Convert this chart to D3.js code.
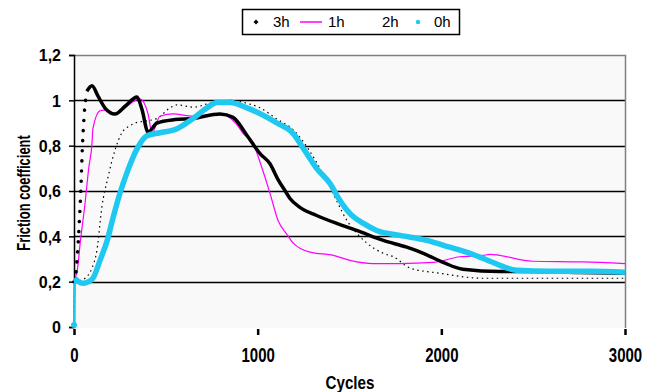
<!DOCTYPE html>
<html>
<head>
<meta charset="utf-8">
<script src="https://cdn.jsdelivr.net/npm/d3@7"></script>
<style>
  html, body { margin: 0; padding: 0; background: #fff; }
  svg { display: block; }
  text { font-family: "Liberation Sans", Arial, sans-serif; fill: #000; }
</style>
</head>
<body>
<svg id="chart" width="647" height="392"></svg>
<script>
// Friction coefficient vs. cycles for four ageing times
const cycles3h = [0, 8, 15, 22, 30, 38, 45, 55, 70, 98, 130, 170, 223, 280, 343, 370, 403, 452, 550, 648, 795, 866, 942, 1013, 1067, 1111, 1150, 1176, 1230, 1321, 1430, 1539, 1684, 1812, 1902, 2010, 2117, 2319, 2500, 2750, 3000];
const mu3h     = [0.2, 0.22, 0.28, 0.36, 0.48, 0.62, 0.78, 0.93, 1.04, 1.064, 1.02, 0.965, 0.94, 0.975, 1.015, 0.96, 0.86, 0.9, 0.915, 0.92, 0.94, 0.925, 0.845, 0.765, 0.72, 0.65, 0.6, 0.567, 0.528, 0.492, 0.457, 0.426, 0.382, 0.352, 0.325, 0.285, 0.255, 0.245, 0.245, 0.24, 0.237];

const cycles1h = [0, 3, 8, 16, 35, 60, 80, 98, 103, 142, 180, 223, 280, 359, 403, 425, 468, 540, 650, 795, 880, 922, 975, 1020, 1067, 1111, 1158, 1194, 1285, 1412, 1503, 1630, 1775, 1955, 2101, 2227, 2265, 2499, 2771, 3000];
const mu1h     = [0, 0.2, 0.22, 0.24, 0.38, 0.545, 0.7, 0.81, 0.875, 0.954, 0.958, 0.94, 0.97, 1.006, 0.94, 0.857, 0.93, 0.94, 0.93, 0.94, 0.9, 0.853, 0.81, 0.71, 0.59, 0.47, 0.41, 0.37, 0.33, 0.316, 0.294, 0.28, 0.28, 0.285, 0.31, 0.316, 0.32, 0.29, 0.287, 0.28];

const cycles2h = [0, 5, 50, 98, 125, 152, 185, 223, 261, 305, 332, 400, 452, 523, 560, 650, 750, 850, 950, 1013, 1100, 1200, 1280, 1339, 1394, 1486, 1595, 1684, 1739, 1830, 1993, 2227, 2500, 2750, 3000];
const mu2h     = [0, 0.2, 0.21, 0.26, 0.34, 0.53, 0.66, 0.78, 0.857, 0.888, 0.9, 0.91, 0.92, 0.967, 0.98, 0.97, 0.99, 1.0, 0.985, 0.967, 0.92, 0.865, 0.78, 0.70, 0.617, 0.47, 0.37, 0.325, 0.31, 0.26, 0.237, 0.215, 0.215, 0.215, 0.215];

const cycles0h = [0, 5, 25, 49, 80, 103, 142, 180, 212, 250, 288, 343, 397, 468, 561, 648, 724, 779, 849, 942, 1105, 1194, 1247, 1321, 1394, 1448, 1503, 1576, 1648, 1775, 1920, 2047, 2156, 2265, 2319, 2410, 2592, 2810, 3000];
const mu0h     = [0, 0.215, 0.2, 0.193, 0.2, 0.215, 0.295, 0.38, 0.48, 0.59, 0.68, 0.786, 0.844, 0.857, 0.875, 0.92, 0.967, 0.99, 0.99, 0.967, 0.9, 0.853, 0.79, 0.70, 0.633, 0.558, 0.5, 0.457, 0.426, 0.404, 0.382, 0.352, 0.325, 0.29, 0.272, 0.25, 0.246, 0.246, 0.242];

const yTicks = [0, 0.2, 0.4, 0.6, 0.8, 1, 1.2];
const yTickLabels = ["0", "0,2", "0,4", "0,6", "0,8", "1", "1,2"];
const xTicks = [0, 1000, 2000, 3000];
const xTickLabels = ["0", "1000", "2000", "3000"];
const legendNames = ["3h", "1h", "2h", "0h"];

const svg = d3.select("#chart");
const plotLeft = 74, plotRight = 625, plotTop = 55, plotBottom = 327;

const x = d3.scaleLinear().domain([0, 3000]).range([plotLeft, plotRight]);
const y = d3.scaleLinear().domain([0, 1.2]).range([plotBottom, plotTop]);

// plot area
svg.append("rect")
  .attr("x", plotLeft).attr("y", plotTop)
  .attr("width", plotRight - plotLeft).attr("height", plotBottom - plotTop + 1)
  .attr("fill", "#f9f9f9");

// horizontal gridlines
svg.append("g").selectAll("line")
  .data(yTicks.filter(d => d > 0 && d < 1.2))
  .join("line")
  .attr("x1", plotLeft).attr("x2", plotRight)
  .attr("y1", d => Math.round(y(d)) + 0.5).attr("y2", d => Math.round(y(d)) + 0.5)
  .attr("stroke", "#000").attr("stroke-width", 1.6);

// top and right frame
svg.append("path")
  .attr("d", `M${plotLeft},${plotTop + 0.5}H${plotRight + 0.5}V${plotBottom + 1}`)
  .attr("fill", "none").attr("stroke", "#808080").attr("stroke-width", 1.5);

// y axis
const yAxis = d3.axisLeft(y).tickValues(yTicks).tickSize(5)
  .tickFormat((d, i) => yTickLabels[i]);
const gy = svg.append("g").attr("transform", `translate(${plotLeft},0)`).call(yAxis);
gy.select(".domain").attr("stroke", "#000").attr("stroke-width", 1.5);
gy.selectAll(".tick line").attr("stroke", "#000").attr("stroke-width", 1.5);
gy.selectAll(".tick text")
  .attr("x", -13).attr("dy", "0.36em")
  .style("font-size", "16px").style("font-weight", "bold")
  .style("font-family", "'Liberation Sans', Arial, sans-serif");

// x axis (ticks and labels only)
const xAxis = d3.axisBottom(x).tickValues(xTicks).tickSize(6)
  .tickFormat((d, i) => xTickLabels[i]);
const gx = svg.append("g").attr("transform", `translate(0,${plotBottom + 2})`).call(xAxis);
gx.select(".domain").remove();
gx.selectAll(".tick line").attr("stroke", "#000").attr("stroke-width", 2.5);
gx.selectAll(".tick text").each(function () {
  d3.select(this).attr("y", 0).attr("dy", null)
    .attr("transform", "translate(0,33) scale(0.75,1)")
    .style("font-size", "20px").style("font-weight", "bold")
    .style("font-family", "'Liberation Sans', Arial, sans-serif");
});

// axis titles
svg.append("text")
  .attr("transform", `translate(30,${(plotTop + plotBottom) / 2 + 2}) rotate(-90) scale(0.68,1)`)
  .attr("text-anchor", "middle")
  .style("font-size", "19px").style("font-weight", "bold")
  .text("Friction coefficient");
svg.append("text")
  .attr("transform", `translate(350,389) scale(0.8,1)`)
  .attr("text-anchor", "middle")
  .style("font-size", "19px").style("font-weight", "bold")
  .text("Cycles");

const line = d3.line().x(d => x(d[0])).y(d => y(d[1])).curve(d3.curveMonotoneX);
const pairs = (cs, vs) => cs.map((c, i) => [c, vs[i]]);

const plot = svg.append("g");

// 2h: thin dotted black
plot.append("path")
  .datum(pairs(cycles2h, mu2h))
  .attr("d", line).attr("fill", "none")
  .attr("stroke", "#000").attr("stroke-width", 1.2)
  .attr("stroke-dasharray", "1.5,3.5");

// 1h: thin magenta
plot.append("path")
  .datum(pairs(cycles1h, mu1h))
  .attr("d", line).attr("fill", "none")
  .attr("stroke", "#ff00ff").attr("stroke-width", 1.2);

// 3h: dense black markers; steep start shows as separate dots
const d3h = pairs(cycles3h, mu3h);
plot.append("path")
  .datum(d3h.filter(d => d[0] <= 70))
  .attr("d", line).attr("fill", "none")
  .attr("stroke", "#000").attr("stroke-width", 3.5)
  .attr("stroke-linecap", "round")
  .attr("stroke-dasharray", "0.1,10");
plot.append("path")
  .datum(d3h.filter(d => d[0] >= 70))
  .attr("d", line).attr("fill", "none")
  .attr("stroke", "#000").attr("stroke-width", 3.5)
  .attr("stroke-linejoin", "round");

// 0h: thick cyan
const d0h = pairs(cycles0h, mu0h);
plot.append("path")
  .datum(d0h.slice(1))
  .attr("d", line).attr("fill", "none")
  .attr("stroke", "#1ec8f0").attr("stroke-width", 5.5)
  .attr("stroke-linejoin", "round");
plot.append("circle")
  .attr("cx", x(d0h[0][0])).attr("cy", y(d0h[0][1]) - 2).attr("r", 3)
  .attr("fill", "#1ec8f0");
plot.append("line")
  .attr("x1", x(d0h[0][0])).attr("x2", x(d0h[1][0]))
  .attr("y1", y(d0h[0][1]) - 2).attr("y2", y(d0h[1][1]))
  .attr("stroke", "#1ec8f0").attr("stroke-width", 2);

// legend
const lg = svg.append("g");
lg.append("rect")
  .attr("x", 242.5).attr("y", 9.5).attr("width", 217).attr("height", 25)
  .attr("fill", "#fff").attr("stroke", "#000").attr("stroke-width", 1.5);
const legendX = [273, 328, 382, 434];
lg.selectAll("text.leg").data(legendNames).join("text")
  .attr("class", "leg")
  .attr("x", (d, i) => legendX[i]).attr("y", 27)
  .style("font-size", "15px")
  .text(d => d);
lg.append("path").attr("d", "M256,19.5l2.5,2.5l-2.5,2.5l-2.5,-2.5z").attr("fill", "#000");
lg.append("line").attr("x1", 300).attr("x2", 322).attr("y1", 22).attr("y2", 22)
  .attr("stroke", "#ff00ff").attr("stroke-width", 1.5);
lg.append("circle").attr("cx", 418).attr("cy", 22).attr("r", 2.2).attr("fill", "#1ec8f0");
</script>
</body>
</html>
